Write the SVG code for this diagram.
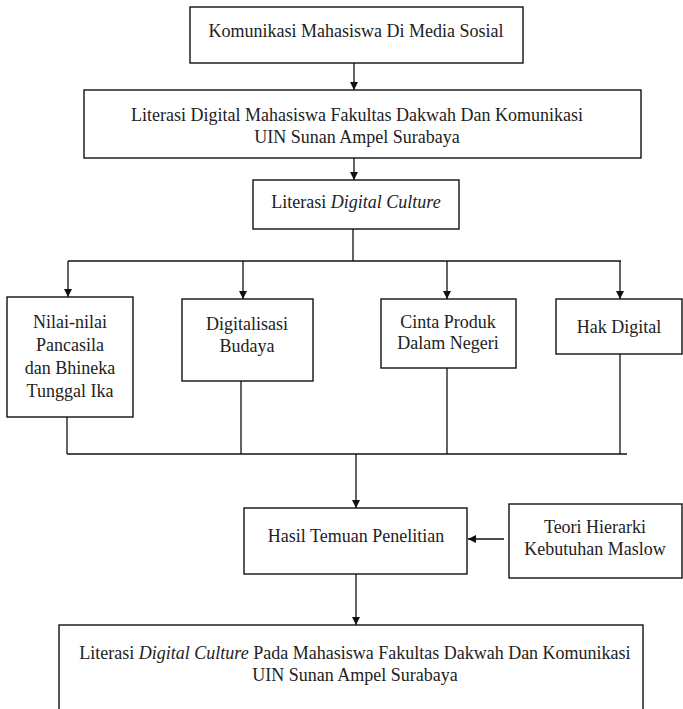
<svg xmlns="http://www.w3.org/2000/svg" width="683" height="709" viewBox="0 0 683 709">
<style>
.box{fill:#fff;stroke:#111;stroke-width:1.4}
.t{font-family:"Liberation Serif","Times New Roman",serif;font-size:18px;fill:#222;text-anchor:middle}
.c{fill:none;stroke:#111;stroke-width:1.3}
</style>
<defs>
<marker id="ah" viewBox="0 0 10 10" refX="10" refY="5" markerWidth="8" markerHeight="8" markerUnits="userSpaceOnUse" orient="auto">
<path d="M0,0 L10,5 L0,10 z" fill="#111"/>
</marker>
</defs>
<rect width="683" height="709" fill="#fff"/>
<g id="connectors">
<line class="c" x1="354" y1="63" x2="354" y2="90" marker-end="url(#ah)"/>
<line class="c" x1="354" y1="158" x2="354" y2="180" marker-end="url(#ah)"/>
<line class="c" x1="353" y1="229" x2="353" y2="261"/>
<line class="c" x1="68" y1="261" x2="621" y2="261"/>
<line class="c" x1="68" y1="261" x2="68" y2="297" marker-end="url(#ah)"/>
<line class="c" x1="243" y1="261" x2="243" y2="299" marker-end="url(#ah)"/>
<line class="c" x1="447" y1="261" x2="447" y2="299" marker-end="url(#ah)"/>
<line class="c" x1="620" y1="261" x2="620" y2="299" marker-end="url(#ah)"/>
<line class="c" x1="67" y1="417" x2="67" y2="454"/>
<line class="c" x1="241" y1="381" x2="241" y2="454"/>
<line class="c" x1="447" y1="368" x2="447" y2="454"/>
<line class="c" x1="620" y1="354" x2="620" y2="454"/>
<line class="c" x1="67" y1="454" x2="627" y2="454"/>
<line class="c" x1="356" y1="454" x2="356" y2="508" marker-end="url(#ah)"/>
<line class="c" x1="504" y1="539" x2="468" y2="539" marker-end="url(#ah)"/>
<line class="c" x1="356" y1="574" x2="356" y2="625" marker-end="url(#ah)"/>
</g>
<g id="n1"><rect class="box" x="190" y="7" width="333" height="56"/><text class="t" x="356" y="37">Komunikasi Mahasiswa Di Media Sosial</text></g>
<g id="n2"><rect class="box" x="84" y="90" width="557" height="68"/><text class="t" x="357" y="121">Literasi Digital Mahasiswa Fakultas Dakwah Dan Komunikasi</text><text class="t" x="357" y="143">UIN Sunan Ampel Surabaya</text></g>
<g id="n3"><rect class="box" x="253" y="180" width="206" height="49"/><text class="t" x="356" y="208">Literasi <tspan font-style="italic">Digital Culture</tspan></text></g>
<g id="n4"><rect class="box" x="7" y="297" width="126" height="120"/><text class="t" x="70" y="328">Nilai-nilai</text><text class="t" x="70" y="351">Pancasila</text><text class="t" x="70" y="374">dan Bhineka</text><text class="t" x="70" y="397">Tunggal Ika</text></g>
<g id="n5"><rect class="box" x="182" y="299" width="131" height="82"/><text class="t" x="247" y="330">Digitalisasi</text><text class="t" x="247" y="352">Budaya</text></g>
<g id="n6"><rect class="box" x="381" y="299" width="135" height="69"/><text class="t" x="448" y="328">Cinta Produk</text><text class="t" x="448" y="349">Dalam Negeri</text></g>
<g id="n7"><rect class="box" x="556" y="299" width="126" height="55"/><text class="t" x="619" y="333">Hak Digital</text></g>
<g id="n8"><rect class="box" x="244" y="508" width="223" height="66"/><text class="t" x="356" y="542">Hasil Temuan Penelitian</text></g>
<g id="n9"><rect class="box" x="509" y="504" width="173" height="74"/><text class="t" x="595" y="533">Teori Hierarki</text><text class="t" x="595" y="555">Kebutuhan Maslow</text></g>
<g id="n10"><rect class="box" x="59" y="625" width="584" height="95"/><text class="t" x="355" y="659">Literasi <tspan font-style="italic">Digital Culture</tspan> Pada Mahasiswa Fakultas Dakwah Dan Komunikasi</text><text class="t" x="355" y="681">UIN Sunan Ampel Surabaya</text></g>
</svg>
